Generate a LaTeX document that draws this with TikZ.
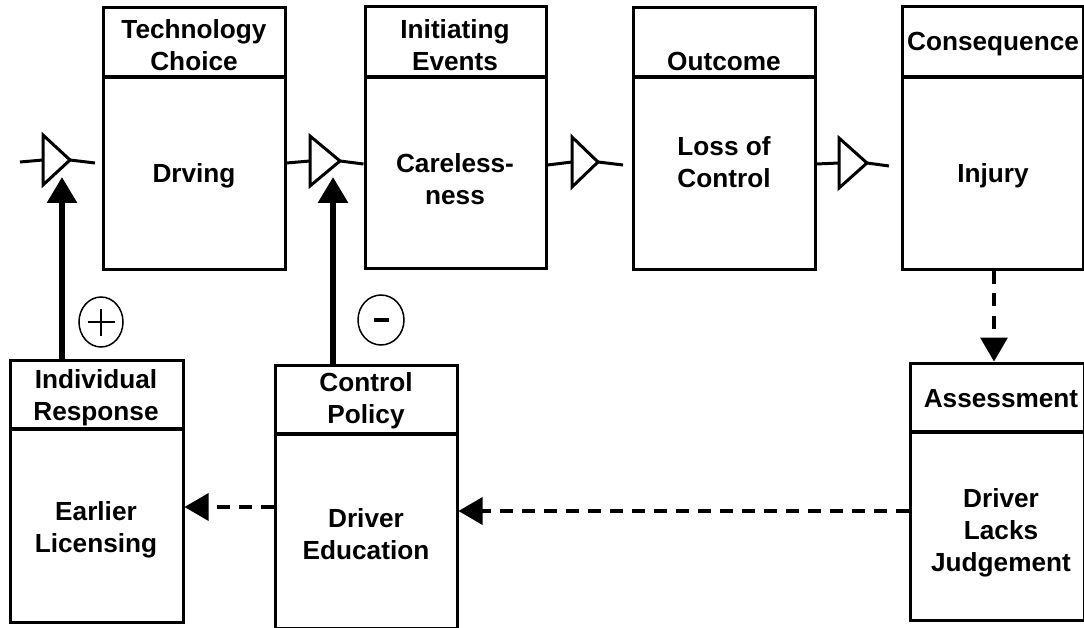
\documentclass[tikz,border=0pt]{standalone}
\usepackage{fontspec}
\setmainfont{Liberation Sans}
\usetikzlibrary{arrows.meta}
\tikzset{
  box/.style={draw, line width=3pt, rectangle, inner sep=0pt},
  hdr/.style={line width=4pt},
  lbl/.style={font=\fontsize{26.2}{32}\selectfont\bfseries, align=center, inner sep=0pt},
  link/.style={line width=3pt},
  tri/.style={line width=3pt, line join=miter},
  fb/.style={line width=6pt, -{Triangle[length=26pt,width=29pt]}},
  dsh/.style={line width=3.5pt, dash pattern=on 13pt off 9pt, -{Triangle[length=24pt,width=27pt]}},
  sgn/.style={line width=1.5pt}
}
\begin{document}
\begin{tikzpicture}[x=1pt,y=-1pt]
\useasboundingbox (0,0) rectangle (1084,628);
% top row boxes
\node[box, minimum width=182, minimum height=262] (b1) at (194,139) {};
\node[box, minimum width=181, minimum height=262] (b2) at (455.5,138) {};
\node[box, minimum width=182, minimum height=262] (b3) at (724,139) {};
\node[box, minimum width=181, minimum height=263] (b4) at (992.5,138.5) {};
% bottom row boxes
\node[box, minimum width=173, minimum height=262] (ir) at (96.5,491) {};
\node[box, minimum width=182, minimum height=263] (cp) at (366,496.5) {};
\node[box, minimum width=174, minimum height=257] (as) at (997,491.5) {};
% header separators
\draw[hdr] (b1.west |- 0,77) -- (b1.east |- 0,77);
\draw[hdr] (b2.west |- 0,77) -- (b2.east |- 0,77);
\draw[hdr] (b3.west |- 0,77) -- (b3.east |- 0,77);
\draw[hdr] (b4.west |- 0,77) -- (b4.east |- 0,77);
\draw[hdr] (ir.west |- 0,429) -- (ir.east |- 0,429);
\draw[hdr] (cp.west |- 0,434) -- (cp.east |- 0,434);
\draw[hdr] (as.west |- 0,432) -- (as.east |- 0,432);
% texts
\node[lbl] (b1h) at (194,45) {Technology\\Choice};
\node[lbl] (b1t) at (194,176) {Drving};
\node[lbl] (b2h) at (455,45) {Initiating\\Events};
\node[lbl] (b2t) at (455,179) {Careless-\\ness};
\node[lbl] (b3h) at (724,61) {Outcome};
\node[lbl] (b3t) at (724,162) {Loss of\\Control};
\node[lbl] (b4h) at (993,44) {Consequence};
\node[lbl] (b4t) at (993,176) {Injury};
\node[lbl] (irh) at (96,398) {Individual\\Response};
\node[lbl] (irt) at (96,530) {Earlier\\Licensing};
\node[lbl] (cph) at (366,401) {Control\\Policy};
\node[lbl] (cpt) at (366,534) {Driver\\Education};
\node[lbl] (ash) at (1001,399) {Assessment};
\node[lbl] (ast) at (1001,533) {Driver\\Lacks\\Judgement};
% triangles (valves)
\draw[tri] (43,135) -- (70,160) -- (43,185) -- cycle;
\coordinate (t1in) at (43,160); \coordinate (t1out) at (70,160);
\draw[tri] (310,136) -- (340,161) -- (310,186) -- cycle;
\coordinate (t2in) at (310,161); \coordinate (t2out) at (340,161);
\draw[tri] (572,137) -- (598,162) -- (572,187) -- cycle;
\coordinate (t3in) at (572,162); \coordinate (t3out) at (598,162);
\draw[tri] (839,138) -- (867,163) -- (839,188) -- cycle;
\coordinate (t4in) at (839,163); \coordinate (t4out) at (867,163);
% flow links
\coordinate (l1s) at (20,162); \coordinate (l1e) at (95,163);
\draw[link] (l1s) -- (t1in);
\draw[link] (t1out) -- (l1e);
\draw[link] (b1.east |- 0,163) -- (t2in);
\draw[link] (t2out) -- (b2.west |- 0,164);
\draw[link] (b2.east |- 0,165) -- (t3in);
\coordinate (l3e) at (623,165);
\draw[link] (t3out) -- (l3e);
\draw[link] (b3.east |- 0,164) -- (t4in);
\coordinate (l4e) at (889,166);
\draw[link] (t4out) -- (l4e);
% feedback arrows
\coordinate (a1e) at (62,177);
\coordinate (a2e) at (333,177);
\draw[fb] (ir.north -| a1e) -- (a1e);
\draw[fb] (cp.north -| a2e) -- (a2e);
% signs
\draw[sgn] (101,322) ellipse [x radius=22, y radius=25];
\node[inner sep=0pt, minimum size=0pt] (plus) at (101,322) {};
\draw[sgn] ([xshift=-13.5pt]plus.center) -- ([xshift=13.5pt]plus.center);
\draw[sgn] ([yshift=-13.5pt]plus.center) -- ([yshift=13.5pt]plus.center);
\draw[sgn] (381,320) ellipse [x radius=23, y radius=25];
\node[inner sep=0pt, minimum size=0pt] (minus) at (381,320) {};
\draw[line width=4pt] ([xshift=-7.5pt]minus.center) -- ([xshift=7.5pt]minus.center);
% dashed assessment arrows
\draw[dsh] (b4.south -| 994,0) -- (as.north -| 994,0);
\draw[dsh] (as.west |- 0,511) -- (cp.east |- 0,511);
\draw[dsh] (cp.west |- 0,507) -- (ir.east |- 0,507);
\end{tikzpicture}
\end{document}
